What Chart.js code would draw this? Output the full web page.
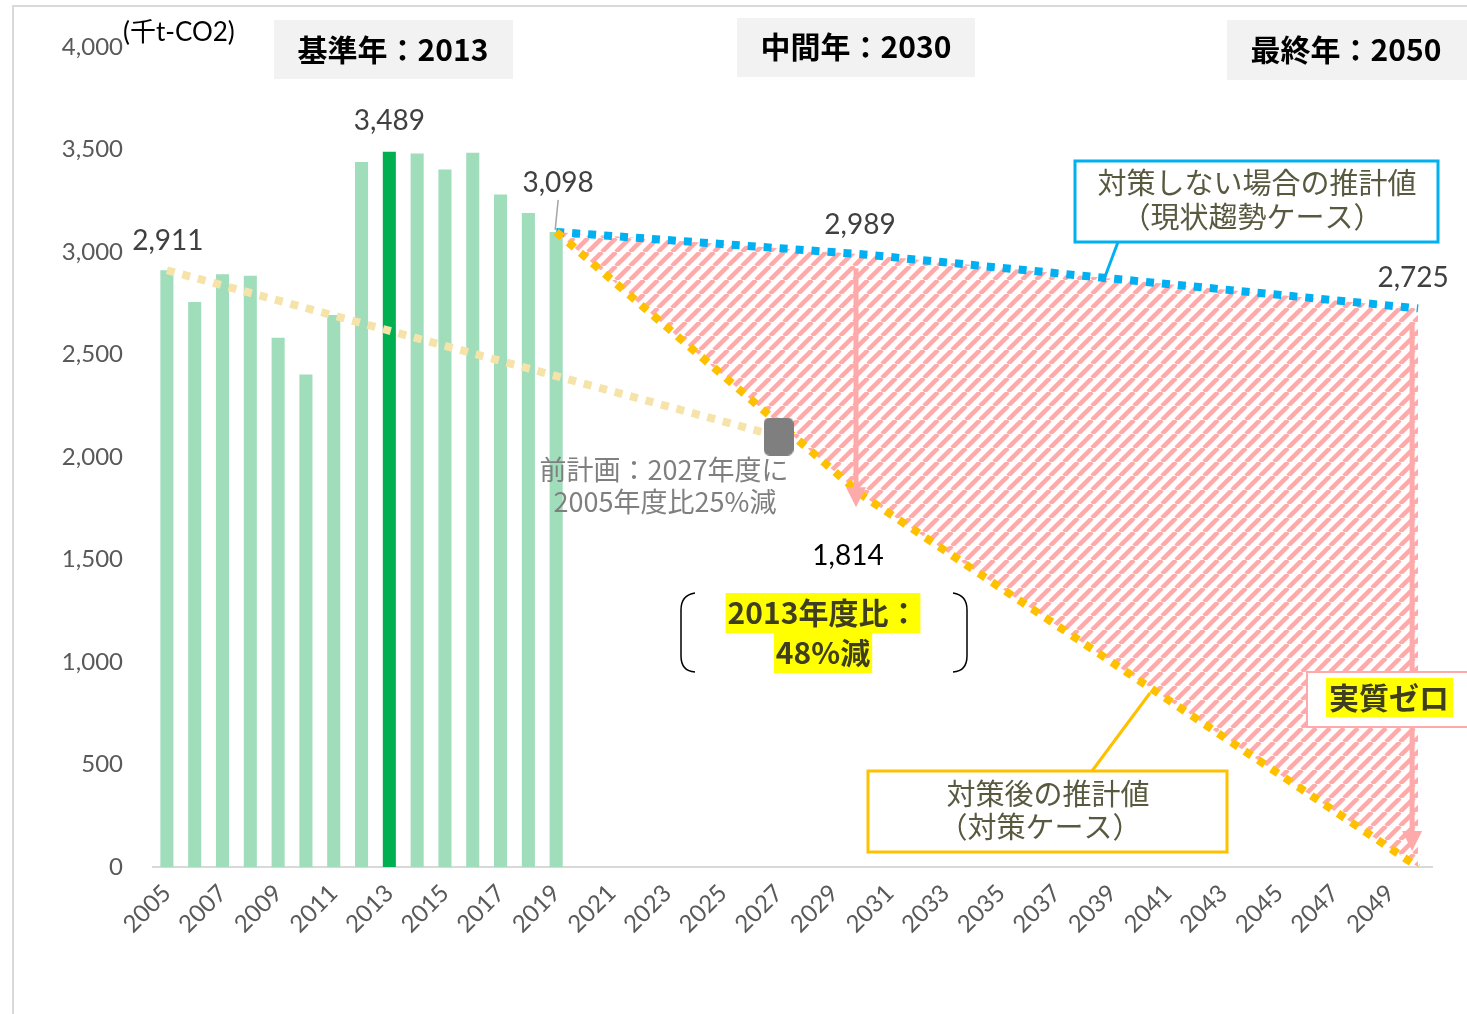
<!DOCTYPE html>
<html>
<head>
<meta charset="utf-8">
<script src="https://cdn.jsdelivr.net/npm/chart.js@4.4.1/dist/chart.umd.min.js"></script>
<style>
  html, body { margin: 0; padding: 0; background: #fff; overflow: hidden; }
  #wrap { position: relative; width: 1467px; height: 1014px; }
  #frame { position: absolute; left: 12px; top: 5px; width: 1500px; height: 1100px; border: 2px solid #D9D9D9; box-sizing: border-box; pointer-events: none; }
</style>
</head>
<body>
<div id="wrap">
  <div id="frame"></div>
  <canvas id="chartEmission" width="1467" height="1014"></canvas>
</div>
<script>
// categories (fiscal years)
var years = ['2005','2006','2007','2008','2009','2010','2011','2012','2013','2014','2015','2016','2017','2018','2019',
  '2020','2021','2022','2023','2024','2025','2026','2027','2028','2029','2030','2031','2032','2033','2034','2035',
  '2036','2037','2038','2039','2040','2041','2042','2043','2044','2045','2046','2047','2048','2049','2050'];

// actual emissions (千t-CO2)
var actualValues = [2911, 2756, 2891, 2884, 2582, 2403, 2693, 3439, 3489, 3481, 3403, 3484, 3280, 3190, 3098];
var baseYear = '2013';

// 現状趨勢ケース
var bauYears = ['2019', '2030', '2050'];
var bauValues = [3098, 2989, 2725];

// 対策ケース
var targetYears = ['2019', '2030', '2050'];
var targetValues = [3098, 1814, 0];

// 前計画
var prevPlanYears = ['2005', '2027'];
var prevPlanValues = [2911, 2100];

// reduction arrows
var arrowYears = ['2030', '2050'];
var arrowFrom = [2989, 2725];
var arrowTo = [1814, 0];

var yTicks = [0, 500, 1000, 1500, 2000, 2500, 3000, 3500, 4000];

var numFont = 'Lato, "Noto Sans CJK JP", sans-serif';
var jpFont = '"Noto Sans CJK JP", sans-serif';

function toPoints(xs, ys) {
  var pts = [];
  for (var i = 0; i < xs.length; i++) pts.push({x: xs[i], y: ys[i]});
  return pts;
}

function fmt(v) {
  return v.toLocaleString('en-US');
}

function makeHatch() {
  var c = document.createElement('canvas');
  c.width = 14; c.height = 14;
  var g = c.getContext('2d');
  g.strokeStyle = '#FFAAAA';
  g.lineWidth = 4.5;
  [-14, 0, 14].forEach(function(o) {
    g.beginPath();
    g.moveTo(o, 14);
    g.lineTo(o + 14, 0);
    g.stroke();
  });
  return g.createPattern(c, 'repeat');
}

function makeMarker() {
  var c = document.createElement('canvas');
  c.width = 30; c.height = 38;
  var g = c.getContext('2d');
  g.fillStyle = '#7F7F7F';
  g.beginPath();
  g.roundRect(0, 0, 30, 38, 6);
  g.fill();
  return c;
}

function box(ctx, x, y, w, h, fill, stroke, lw) {
  if (fill) { ctx.fillStyle = fill; ctx.fillRect(x, y, w, h); }
  if (stroke) { ctx.strokeStyle = stroke; ctx.lineWidth = lw; ctx.strokeRect(x, y, w, h); }
}

function text(ctx, str, x, y, font, color, align) {
  ctx.font = font;
  ctx.fillStyle = color;
  ctx.textAlign = align || 'center';
  ctx.textBaseline = 'middle';
  ctx.fillText(str, x, y);
}

function line(ctx, x1, y1, x2, y2, color, lw) {
  ctx.strokeStyle = color;
  ctx.lineWidth = lw;
  ctx.beginPath();
  ctx.moveTo(x1, y1);
  ctx.lineTo(x2, y2);
  ctx.stroke();
}

function highlightText(ctx, str, x, y, font) {
  ctx.font = font;
  var w = ctx.measureText(str).width;
  ctx.fillStyle = '#FFFF00';
  ctx.fillRect(x - w / 2 - 2, y - 20, w + 4, 40);
  text(ctx, str, x, y, font, '#3F3F1F');
}

var annotations = {
  id: 'annotations',
  afterDatasetsDraw: function(chart) {
    var ctx = chart.ctx, xs = chart.scales.x, ys = chart.scales.y;
    var px = function(yr) { return xs.getPixelForValue(years.indexOf(yr)); };
    ctx.save();

    // reduction arrows
    for (var i = 0; i < arrowYears.length; i++) {
      var ax = px(arrowYears[i]) - 6;
      var y1 = ys.getPixelForValue(arrowFrom[i]) + 14;
      var y2 = ys.getPixelForValue(arrowTo[i]) + (arrowTo[i] === 0 ? -16 : 12);
      line(ctx, ax, y1, ax, y2 - 16, '#FFAAAA', 5);
      ctx.fillStyle = '#FFAAAA';
      ctx.beginPath();
      ctx.moveTo(ax - 10, y2 - 20);
      ctx.lineTo(ax + 10, y2 - 20);
      ctx.lineTo(ax, y2);
      ctx.closePath();
      ctx.fill();
    }

    // value labels
    var vl = '28px ' + numFont;
    text(ctx, fmt(actualValues[0]), px('2005') + 1, ys.getPixelForValue(actualValues[0]) - 29, vl, '#404040');
    text(ctx, fmt(actualValues[8]), px('2013'), ys.getPixelForValue(actualValues[8]) - 31, vl, '#404040');
    text(ctx, fmt(bauValues[0]), px('2019') + 2, ys.getPixelForValue(bauValues[0]) - 49, vl, '#404040');
    line(ctx, px('2019') + 2, ys.getPixelForValue(bauValues[0]) - 32, px('2019') - 1, ys.getPixelForValue(bauValues[0]) - 2, '#A6A6A6', 1.5);
    text(ctx, fmt(bauValues[1]), px('2030') - 2, ys.getPixelForValue(bauValues[1]) - 29, vl, '#404040');
    text(ctx, fmt(bauValues[2]), px('2050') - 5, ys.getPixelForValue(bauValues[2]) - 30, vl, '#404040');
    text(ctx, fmt(targetValues[1]), px('2030') - 14, ys.getPixelForValue(targetValues[1]) + 61, vl, '#000000');

    // unit
    text(ctx, '(千t-CO2)', 123, 33, '26px ' + numFont, '#000000', 'left');

    // year headers
    var hf = 'bold 30px ' + jpFont;
    box(ctx, 274, 20, 239, 59, '#F2F2F2');
    text(ctx, '基準年：2013', 393, 50, hf, '#000000');
    box(ctx, 737, 18, 238, 59, '#F2F2F2');
    text(ctx, '中間年：2030', 856, 47, hf, '#000000');
    box(ctx, 1227, 20, 240, 60, '#F2F2F2');
    text(ctx, '最終年：2050', 1346, 50, hf, '#000000');

    // previous plan note
    var gf = '27px ' + jpFont;
    text(ctx, '前計画：2027年度に', 664, 470, gf, '#7F7F7F');
    text(ctx, '2005年度比25%減', 665, 502, gf, '#7F7F7F');

    // 48% reduction bracket
    ctx.strokeStyle = '#000000';
    ctx.lineWidth = 1.5;
    ctx.beginPath();
    ctx.moveTo(695, 593);
    ctx.quadraticCurveTo(681, 595, 681, 610);
    ctx.lineTo(681, 656);
    ctx.quadraticCurveTo(681, 671, 695, 672);
    ctx.moveTo(953, 593);
    ctx.quadraticCurveTo(967, 595, 967, 610);
    ctx.lineTo(967, 656);
    ctx.quadraticCurveTo(967, 671, 953, 672);
    ctx.stroke();
    highlightText(ctx, '2013年度比：', 823, 613, 'bold 30px ' + jpFont);
    highlightText(ctx, '48%減', 823, 653, 'bold 30px ' + jpFont);

    // BAU callout
    var bf = '29px ' + jpFont;
    line(ctx, 1118, 242, 1103, 282, '#00B0F0', 3);
    box(ctx, 1075, 161, 363, 81, '#FFFFFF', '#00B0F0', 3);
    text(ctx, '対策しない場合の推計値', 1257, 183, bf, '#595940');
    text(ctx, '（現状趨勢ケース）', 1252, 217, bf, '#595940');

    // target callout
    line(ctx, 1092, 771, 1150, 693, '#FFC000', 3);
    box(ctx, 868, 771, 359, 81, '#FFFFFF', '#FFC000', 3);
    text(ctx, '対策後の推計値', 1048, 794, bf, '#595940');
    text(ctx, '（対策ケース）', 1040, 827, bf, '#595940');

    // net zero
    box(ctx, 1307, 672, 170, 55, '#FFFFFF', '#FFAAAA', 2);
    ctx.fillStyle = '#FFFF00';
    ctx.fillRect(1326, 678, 127, 39);
    text(ctx, '実質ゼロ', 1389, 698, 'bold 30px ' + jpFont, '#3F3F1F');

    ctx.restore();
  }
};

var barColors = years.slice(0, actualValues.length).map(function(yr) {
  return yr === baseYear ? '#00B050' : '#A0DDBB';
});

var ctx = document.getElementById('chartEmission').getContext('2d');
var chartEmission = new Chart(ctx, {
  type: 'bar',
  data: {
    labels: years,
    datasets: [
      {
        type: 'bar',
        data: actualValues,
        backgroundColor: barColors,
        barPercentage: 0.47,
        categoryPercentage: 1,
        order: 10
      },
      {
        type: 'line',
        data: toPoints(bauYears, bauValues),
        borderColor: '#00B0F0',
        borderWidth: 8,
        borderDash: [8, 8],
        borderCapStyle: 'butt',
        pointRadius: 0,
        fill: {target: '+1'},
        backgroundColor: makeHatch(),
        order: 2
      },
      {
        type: 'line',
        data: toPoints(targetYears, targetValues),
        borderColor: '#FFC000',
        borderWidth: 8,
        borderDash: [8, 8],
        borderCapStyle: 'butt',
        pointRadius: 0,
        fill: false,
        order: 1
      },
      {
        type: 'line',
        data: toPoints(prevPlanYears, prevPlanValues),
        borderColor: '#F5E3AA',
        borderWidth: 8,
        borderDash: [8, 8],
        borderCapStyle: 'butt',
        pointRadius: 0,
        fill: false,
        order: 3
      },
      {
        type: 'line',
        data: [{x: prevPlanYears[1], y: prevPlanValues[1]}],
        showLine: false,
        pointStyle: makeMarker(),
        pointRadius: 17,
        order: 0
      }
    ]
  },
  options: {
    responsive: false,
    animation: false,
    layout: { padding: { top: 47, right: 35, left: 0, bottom: 0 } },
    plugins: {
      legend: { display: false },
      tooltip: { enabled: false }
    },
    scales: {
      x: {
        grid: { display: false },
        border: { display: true, color: '#D9D9D9', width: 2 },
        ticks: {
          autoSkip: false,
          minRotation: 45,
          maxRotation: 45,
          padding: 4,
          color: '#595959',
          font: { family: numFont, size: 24 },
          callback: function(v, i) { return i % 2 === 0 ? years[i] : ''; }
        },
        afterFit: function(scale) { scale.height = 147; }
      },
      y: {
        min: 0,
        max: 4000,
        afterBuildTicks: function(scale) {
          scale.ticks = yTicks.map(function(v) { return {value: v}; });
        },
        grid: { display: false },
        border: { display: false },
        ticks: {
          padding: 22,
          color: '#595959',
          font: { family: numFont, size: 24 },
          callback: function(v) { return fmt(v); }
        },
        afterFit: function(scale) { scale.width = 153; }
      }
    }
  },
  plugins: [annotations]
});
</script>
</body>
</html>
